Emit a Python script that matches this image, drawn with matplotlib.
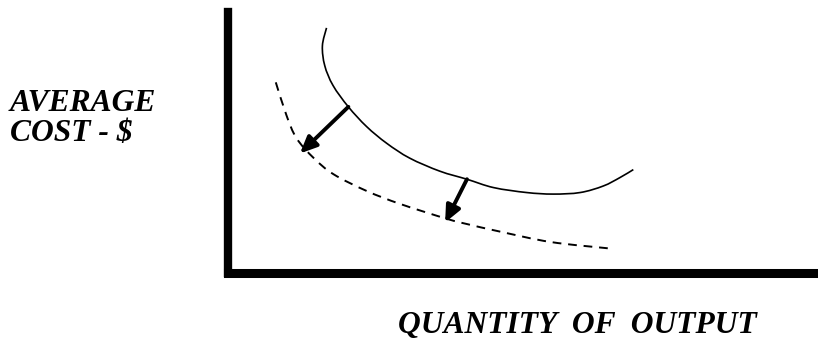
import matplotlib
matplotlib.use("Agg")
import matplotlib.pyplot as plt
from matplotlib.path import Path
from matplotlib.patches import PathPatch
import numpy as np

# Curves (x: quantity, y: average cost; arbitrary 0-10 units)
ac_old_x = [1.67, 1.60, 1.64, 1.78, 2.04, 2.35, 2.69, 3.08, 3.59, 4.05, 4.50, 5.06, 5.51, 5.97, 6.36, 6.64, 6.87]
ac_old_y = [9.39, 8.70, 7.94, 7.18, 6.36, 5.60, 4.96, 4.39, 3.89, 3.58, 3.26, 3.07, 3.01, 3.07, 3.32, 3.64, 3.95]
ac_new_x = [0.81, 0.99, 1.16, 1.45, 1.79, 2.35, 2.92, 3.71, 4.05, 4.61, 5.47, 6.48]
ac_new_y = [7.30, 6.04, 5.16, 4.40, 3.77, 3.13, 2.63, 2.06, 1.86, 1.57, 1.17, 0.92]
arrow_start_x = [2.04, 4.05]
arrow_start_y = [6.36, 3.58]
arrow_end_x = [1.22, 3.68]
arrow_end_y = [4.57, 1.92]
y_label = "AVERAGE\nCOST - $"
x_label = "QUANTITY  OF  OUTPUT"


def smooth_path(xs, ys):
    """Smooth path through the given points (Catmull-Rom drawn as cubic Beziers)."""
    p = np.column_stack([xs, ys]).astype(float)
    verts = [p[0]]
    codes = [Path.MOVETO]
    n = len(p)
    for i in range(n - 1):
        p0 = p[i - 1] if i > 0 else p[i]
        p1, p2 = p[i], p[i + 1]
        p3 = p[i + 2] if i + 2 < n else p[i + 1]
        c1 = p1 + (p2 - p0) / 6.0
        c2 = p2 - (p3 - p1) / 6.0
        verts += [c1, c2, p2]
        codes += [Path.CURVE4] * 3
    return Path(verts, codes)


fig = plt.figure(figsize=(8.18, 3.41), dpi=100)
L, R, T, B = 228, 818, 12, 272.5
ax = fig.add_axes([L / 818, 1 - B / 341, (R - L) / 818, (B - T) / 341])
ax.set_xlim(0, 10)
ax.set_ylim(0, 10)
ax.set_xticks([])
ax.set_yticks([])
for s in ["top", "right"]:
    ax.spines[s].set_visible(False)
ax.spines["left"].set_linewidth(6)
ax.spines["bottom"].set_linewidth(6.5)
ax.spines["left"].set_capstyle("projecting")
ax.spines["bottom"].set_capstyle("projecting")

ax.add_patch(PathPatch(smooth_path(ac_old_x, ac_old_y), fill=False, edgecolor="black",
                       lw=1.2, clip_on=False))
ax.add_patch(PathPatch(smooth_path(ac_new_x, ac_new_y), fill=False, edgecolor="black",
                       lw=1.4, linestyle=(0, (4.5, 3.5)), clip_on=False))

for x0, y0, x1, y1 in zip(arrow_start_x, arrow_start_y, arrow_end_x, arrow_end_y):
    ax.annotate("", xy=(x1, y1), xytext=(x0, y0),
                arrowprops=dict(arrowstyle="-|>,head_length=1.0,head_width=0.45",
                                color="black", lw=2.8, shrinkA=0, shrinkB=0))

font = dict(family="Liberation Serif", weight="bold", style="italic", size=22.7)
fig.text(10 / 818, 1 - 89 / 341, y_label, ha="left", va="top",
         linespacing=1.05, **font)
fig.text(757 / 818, 1 - 333 / 341, x_label, ha="right", va="baseline", **font)

fig.savefig("out.png", dpi=100)
